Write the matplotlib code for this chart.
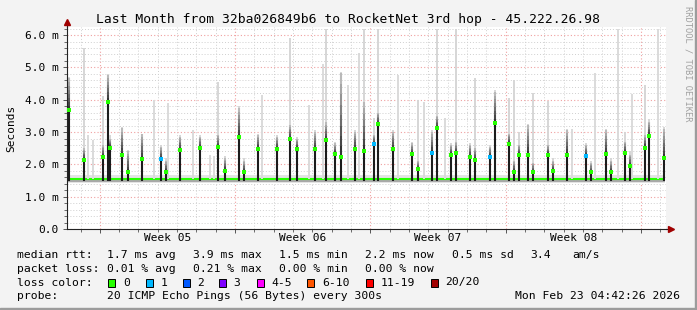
import numpy as np
import matplotlib.pyplot as plt
from matplotlib.patches import Rectangle

# x values are days from the left edge of the graph (31 days shown)
spike_day = [0.12, 0.88, 1.88, 2.13, 2.22, 2.86, 3.14, 3.87, 4.89, 5.11,
             5.87, 6.87, 7.84, 8.16, 8.89, 9.14, 9.88, 10.89, 11.54, 11.90,
             12.86, 13.38, 13.88, 14.16, 14.88, 15.38, 15.88, 16.12, 16.86, 17.86,
             18.15, 18.89, 19.15, 19.88, 20.13, 20.87, 21.13, 21.89, 22.15, 22.89,
             23.15, 23.37, 23.85, 24.13, 24.87, 25.13, 25.90, 26.88, 27.11, 27.88,
             28.14, 28.88, 29.12, 29.90, 30.12, 30.90]
spike_median = [3.68, 2.14, 2.22, 3.94, 2.52, 2.29, 1.77, 2.17, 2.16, 1.77,
                2.45, 2.51, 2.53, 1.81, 2.84, 1.77, 2.48, 2.48, 2.77, 2.49,
                2.46, 2.74, 2.33, 2.23, 2.48, 2.42, 2.64, 3.25, 2.48, 2.32,
                1.86, 2.36, 3.14, 2.29, 2.34, 2.24, 2.15, 2.23, 3.28, 2.64,
                1.77, 2.29, 2.29, 1.75, 2.29, 1.80, 2.29, 2.26, 1.75, 2.33,
                1.77, 2.36, 1.96, 2.52, 2.89, 2.20]
spike_smoke = [4.67, 2.50, 2.60, 4.77, 2.80, 3.12, 2.41, 2.94, 2.55, 2.10,
               2.86, 2.86, 2.91, 2.19, 3.74, 2.10, 2.91, 2.86, 3.22, 2.80,
               3.01, 3.30, 2.65, 4.82, 3.01, 3.94, 2.90, 3.60, 3.01, 2.65,
               2.10, 3.01, 3.50, 2.60, 2.70, 2.60, 2.50, 2.55, 4.25, 2.95,
               2.10, 2.60, 3.22, 2.05, 2.60, 2.10, 3.07, 2.60, 2.05, 3.07,
               2.10, 2.70, 2.30, 2.90, 3.32, 3.10]
spike_max = [4.70, 5.59, 4.12, 4.80, 2.90, 3.15, 2.45, 2.95, 2.60, 2.20,
             2.90, 2.90, 4.56, 2.25, 3.80, 2.20, 2.95, 2.90, 5.90, 2.85,
             3.05, 6.20, 2.70, 4.85, 3.05, 6.20, 3.43, 6.20, 3.05, 2.70,
             3.99, 3.05, 6.20, 2.65, 6.20, 2.65, 4.68, 2.60, 4.30, 4.04,
             4.61, 3.01, 3.25, 4.20, 3.96, 2.20, 3.10, 2.65, 2.10, 3.10,
             2.20, 3.00, 2.40, 4.46, 3.40, 3.15]
spike_loss = [0, 0, 0, 0, 0, 0, 0, 0, 1, 0,
              0, 0, 0, 0, 0, 0, 0, 0, 0, 0,
              0, 0, 0, 0, 0, 0, 1, 0, 0, 0,
              0, 1, 0, 0, 0, 0, 0, 1, 0, 0,
              0, 0, 0, 0, 0, 0, 0, 1, 0, 0,
              0, 0, 0, 0, 0, 0]

# single max pings with no raised median
peak_day = [1.10, 1.35, 4.50, 5.23, 6.53, 7.40, 7.60, 10.07, 12.55, 13.24,
            14.53, 15.10, 17.15, 18.50, 19.58, 26.16, 27.33, 28.54, 29.26, 30.57]
peak_max = [2.90, 2.75, 3.99, 3.89, 3.05, 2.30, 2.25, 4.15, 3.84, 5.10,
            4.46, 5.44, 4.77, 3.94, 3.43, 3.10, 4.82, 6.20, 4.17, 6.20]

base_median = 1.55
base_low, base_high = 1.43, 1.68
data_end = 30.95

week_start = [1.7, 8.7, 15.7, 22.7, 29.7]
week_labels = ['Week 05', 'Week 06', 'Week 07', 'Week 08']
y_ticks = [0, 1, 2, 3, 4, 5, 6]
y_ticklabels = ['0.0', '1.0 m', '2.0 m', '3.0 m', '4.0 m', '5.0 m', '6.0 m']

loss_labels = ['0', '1', '2', '3', '4-5', '6-10', '11-19', '20/20']
loss_colors = ['#26ff00', '#00b8ff', '#0059ff', '#7e00ff',
               '#ff00ff', '#ff5500', '#ff0000', '#a10000']

W, H = 697, 310
mono = 'DejaVu Sans Mono'


def fx(px):
    return px / W


def fy(py):
    return 1 - py / H


fig = plt.figure(figsize=(W / 100, H / 100), dpi=100, facecolor='#f3f3f3')
ax = fig.add_axes([fx(67), fy(229), (666 - 67) / W, (229 - 27) / H])
ax.set_facecolor('white')
ax.set_xlim(0, 31)
ax.set_ylim(0, 6.25)

# grid
ax.set_yticks(y_ticks)
ax.set_yticklabels(y_ticklabels, family=mono, fontsize=8)
ax.set_yticks(np.arange(0, 6.25, 0.2), minor=True)
ax.set_xticks(week_start)
ax.set_xticklabels([])
ax.set_xticks(np.arange(0.7, 31, 1.0), minor=True)
ax.grid(which='minor', color='#cfcfcf', ls=(0, (1, 2)), lw=0.7)
ax.grid(which='major', color='#f0a0a0', ls=(0, (1, 2)), lw=0.8)
ax.set_axisbelow(True)
ax.tick_params(which='major', length=3, width=0.7, color='#555555', pad=3)
ax.tick_params(which='minor', length=2, width=0.6, color='#555555')
for s in ['top', 'right']:
    ax.spines[s].set_visible(False)
for s in ['left', 'bottom']:
    ax.spines[s].set_color('#222222')
    ax.spines[s].set_linewidth(0.8)

# baseline smoke + median
ax.fill_between([0, data_end], base_low, base_high, color='#e4e4e4', lw=0)
ax.fill_between([0, data_end], base_low + 0.03, base_median - 0.02, color='#a9a9a9', lw=0)
ax.hlines(base_median, 0, data_end, color=loss_colors[0], lw=1.5)

# lone max pings
ax.vlines(peak_day, base_median, peak_max, color='#dadada', lw=1.4)

# spikes
for d, med, smk, mx, ls in zip(spike_day, spike_median, spike_smoke, spike_max, spike_loss):
    ax.vlines(d, base_median, mx, color='#d6d6d6', lw=1.4)
    n = 8
    for i in range(n):
        y0 = med + (smk - med) * i / n
        y1 = med + (smk - med) * (i + 1) / n
        g = 0.2 + 0.6 * i / n
        ax.vlines(d, y0, y1, color=(g, g, g), lw=1.5)
    ax.vlines(d, base_median - 0.05, med, color='#1c1c1c', lw=1.5)
for d, med, ls in zip(spike_day, spike_median, spike_loss):
    ax.plot(d, med, marker='s', ms=2.7, mew=0, color=loss_colors[ls], zorder=5)

# axis arrows
ax.plot([1, 1.008], [0, 0], transform=ax.transAxes, color='#222222', lw=0.8, clip_on=False)
ax.plot(1.009, 0, transform=ax.transAxes, marker='>', ms=4, color='#a00000', clip_on=False)
ax.plot([0, 0], [1, 1.02], transform=ax.transAxes, color='#222222', lw=0.8, clip_on=False)
ax.plot(0, 1.027, transform=ax.transAxes, marker='^', ms=4, color='#a00000', clip_on=False)

# week labels
for i, lab in enumerate(week_labels):
    mid = (week_start[i] + week_start[i + 1]) / 2
    ax.text(mid, -0.045, lab, transform=ax.get_xaxis_transform(), ha='center', va='center',
            family=mono, fontsize=8)

ax.set_ylabel('Seconds', family=mono, fontsize=8, labelpad=6)

fig.text(0.5, fy(19), 'Last Month from 32ba026849b6 to RocketNet 3rd hop - 45.222.26.98',
         ha='center', va='center', family=mono, fontsize=9.4)
fig.text(fx(688), fy(6), 'RRDTOOL / TOBI OETIKER', rotation=270, ha='center', va='top',
         family=mono, fontsize=6.3, color='#a0a0a0')

# legend
lf = dict(va='center', family=mono, fontsize=8.2)
rows = [255, 268.5, 282.5, 296]
fig.text(fx(16.7), fy(rows[0]), 'median rtt:', **lf)
for px, s in [(107.3, '1.7 ms avg'), (193.3, '3.9 ms max'), (279.3, '1.5 ms min'),
              (365, '2.2 ms now'), (451.7, '0.5 ms sd'), (530.7, '3.4'), (572.3, 'am/s')]:
    fig.text(fx(px), fy(rows[0]), s, **lf)
fig.text(fx(16.7), fy(rows[1]), 'packet loss:', **lf)
for px, s in [(107.3, '0.01 % avg'), (193.3, '0.21 % max'), (279.3, '0.00 % min'),
              (365, '0.00 % now')]:
    fig.text(fx(px), fy(rows[1]), s, **lf)
fig.text(fx(16.7), fy(rows[2]), 'loss color:', **lf)
box_x = [108.3, 145.7, 182.7, 219, 256.7, 307.3, 365.7, 430.7]
for bx, lab, col in zip(box_x, loss_labels, loss_colors):
    fig.patches.append(Rectangle((fx(bx), fy(rows[2] + 4)), 7 / W, 8 / H, facecolor=col,
                                 edgecolor='black', lw=0.7, transform=fig.transFigure))
    fig.text(fx(bx + 14.5), fy(rows[2]), lab, **lf)
fig.text(fx(16.7), fy(rows[3]), 'probe:', **lf)
fig.text(fx(107.3), fy(rows[3]), '20 ICMP Echo Pings (56 Bytes) every 300s', **lf)
fig.text(fx(680), fy(rows[3]), 'Mon Feb 23 04:42:26 2026', ha='right', va='center',
         family=mono, fontsize=8.2)

# frame
fig.patches.append(Rectangle((0, 0), 1, 2 / H, color='#9c9c9c', transform=fig.transFigure))
fig.patches.append(Rectangle((1 - 2 / W, 0), 2 / W, 1, color='#9c9c9c', transform=fig.transFigure))

fig.savefig('out.png', dpi=100, facecolor=fig.get_facecolor())
